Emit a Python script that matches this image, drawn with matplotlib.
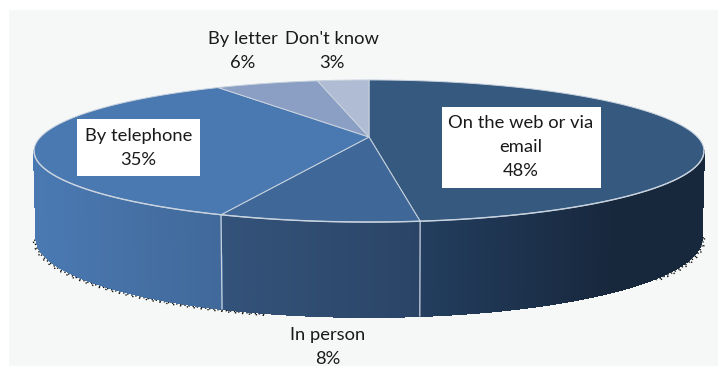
import numpy as np
import matplotlib
matplotlib.use('Agg')
import matplotlib.pyplot as plt
from matplotlib.collections import PolyCollection
from matplotlib.colors import to_rgb
from matplotlib.patches import Polygon, Rectangle

# slices, clockwise from 12 o'clock
categories = ['On the web or via\nemail', 'In person', 'By telephone', 'By letter', "Don't know"]
values = [48, 8, 35, 6, 3]
top_colors = ['#35597f', '#3f6898', '#4a78b1', '#8a9fc3', '#afbcd3']
# wall shading, left end then right end of each slice
wall_colors = [('#233e5f', '#17273c'), ('#34537a', '#2a4466'), ('#4a79b2', '#41699a'),
               ('#8a9fc3', '#8a9fc3'), ('#afbcd3', '#afbcd3')]

W, H = 718, 366
CX, CY = 369, 137      # apex of the pie
A, B, K = 328.4, 68.3, 0.197   # perspective of the top disc
DEPTH = 85.5
EDGE = '#c9d3df'


def top_xy(theta):
    u, v = np.sin(theta), -np.cos(theta)
    s = 1 - K * v
    return CX + A * u / s, CY + B * v / s


def bottom_xy(theta):
    x, y = top_xy(theta)
    v = -np.cos(theta)
    return CX + (x - CX) * 0.993, y + DEPTH / (1 - 0.5 * K * v)


fig = plt.figure(figsize=(W / 100, H / 100), dpi=100, facecolor='white')
ax = fig.add_axes([0, 0, 1, 1])
ax.set_xlim(0, W)
ax.set_ylim(H, 0)
ax.axis('off')
ax.add_patch(Rectangle((9, 10), W - 9, H - 10, fc='#f6f8f8', ec='none', zorder=0))

edges = np.radians(np.cumsum([0] + values) * 3.6)

# the outline of the wall is only visible between the widest points of the disc
vis0, vis1 = np.arccos(-K), 2 * np.pi - np.arccos(-K)

# dotted shadow under the outer parts of the wall
for a0, a1 in [(vis0 - 0.03, np.radians(130)), (np.radians(195), vis1 + 0.03)]:
    t = np.linspace(a0, a1, 200)
    bx, by = bottom_xy(t)
    for off, ls in [(1.6, (0, (1, 2))), (3.0, (0, (1, 4)))]:
        sign = np.where(t < np.pi, 1, -1)
        ax.plot(bx + sign * off * np.abs(np.sin(t)), by + off * 0.8, color='#111111', lw=1.0,
                ls=ls, zorder=1)

# side wall, one thin strip per small step so the shading runs across it
for i in range(len(values)):
    a0, a1 = max(edges[i], vis0), min(edges[i + 1], vis1)
    if a1 <= a0:
        continue
    t = np.linspace(a0, a1, 160)
    tx, ty = top_xy(t)
    bx, by = bottom_xy(t)
    x_lo, x_hi = min(tx), max(tx)
    c0, c1 = np.array(to_rgb(wall_colors[i][0])), np.array(to_rgb(wall_colors[i][1]))
    strips, cols = [], []
    for j in range(len(t) - 1):
        strips.append([(tx[j], ty[j]), (tx[j + 1], ty[j + 1]), (bx[j + 1], by[j + 1]), (bx[j], by[j])])
        f = (tx[j] - x_lo) / (x_hi - x_lo)
        if i == 0:
            # the big slice is darkest well before its right end
            f = min(f / 0.7, 1)
        cols.append(c0 + (c1 - c0) * f)
    ax.add_collection(PolyCollection(strips, facecolors=cols, edgecolors=cols, linewidths=0.8,
                                     antialiaseds=False, zorder=2))

# top of the pie
for i in range(len(values)):
    t = np.linspace(edges[i], edges[i + 1], 200)
    x, y = top_xy(t)
    pts = np.column_stack([np.r_[CX, x], np.r_[CY, y]])
    ax.add_patch(Polygon(pts, closed=True, fc=top_colors[i], ec=EDGE, lw=0.7, zorder=3))

# light seams on the wall and rim at the front
for a in edges:
    if vis0 < a < vis1:
        tx, ty = top_xy(a)
        bx, by = bottom_xy(a)
        ax.plot([tx, bx], [ty, by], color=EDGE, lw=0.9, zorder=4)
t = np.linspace(vis0, vis1, 300)
ax.plot(*top_xy(t), color=EDGE, lw=1.0, zorder=4)

# labels
ax.add_patch(Rectangle((77, 119), 123, 57, fc='white', ec='none', zorder=5))
ax.add_patch(Rectangle((442, 107), 159, 81, fc='white', ec='none', zorder=5))
label_pos = [(521, 147), (328, 347), (138.5, 148), (243, 51), (332, 51)]
for name, val, (lx, ly) in zip(categories, values, label_pos):
    ax.text(lx, ly, '%s\n%d%%' % (name, val), ha='center', va='center', fontsize=13.2,
            family='Lato', color='#1a1a1a', linespacing=1.62, zorder=6)

fig.savefig('out.png', dpi=100)
